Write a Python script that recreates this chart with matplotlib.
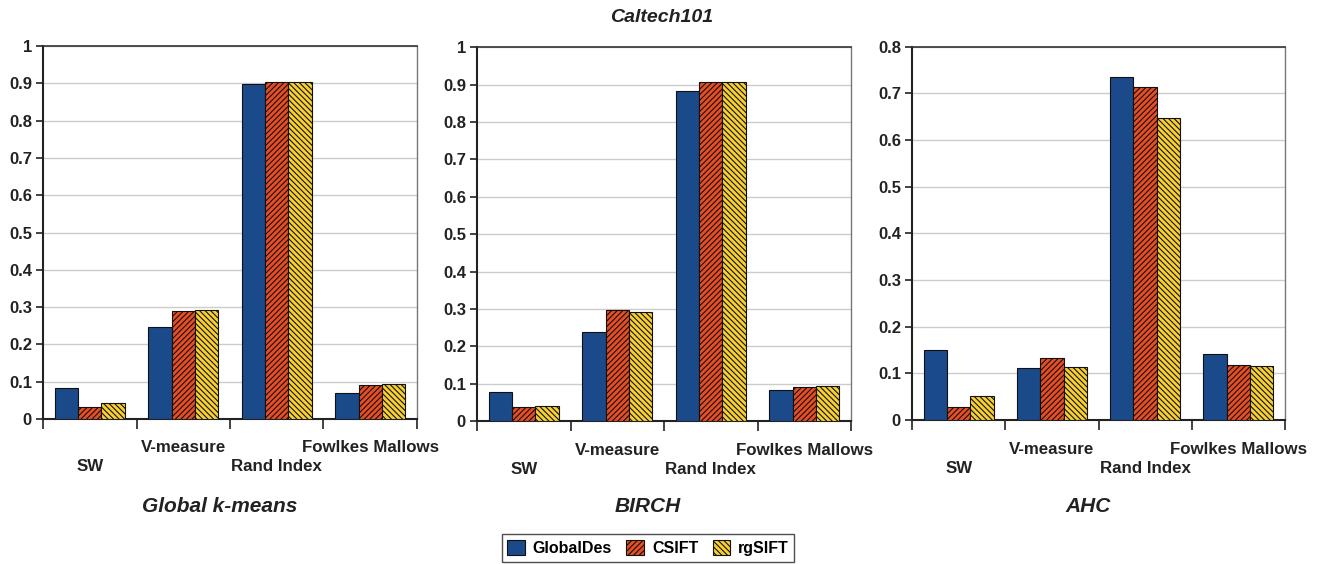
import matplotlib
matplotlib.use("Agg")
import matplotlib.pyplot as plt
import matplotlib.transforms as mtrans
from matplotlib.patches import Patch
import numpy as np

plt.rcParams['font.family'] = ['Liberation Sans', 'DejaVu Sans']
plt.rcParams['font.weight'] = 'bold'
plt.rcParams['hatch.linewidth'] = 0.8

categories = ["SW", "V-measure", "Rand Index", "Fowlkes Mallows"]
series_names = ["GlobalDes", "CSIFT", "rgSIFT"]
panel_titles = ["Global k-means", "BIRCH", "AHC"]
main_title = "Caltech101"

kmeans_globaldes = [0.084, 0.247, 0.898, 0.069]
kmeans_csift = [0.032, 0.290, 0.903, 0.090]
kmeans_rgsift = [0.042, 0.291, 0.904, 0.093]

birch_globaldes = [0.077, 0.237, 0.883, 0.084]
birch_csift = [0.038, 0.296, 0.908, 0.090]
birch_rgsift = [0.041, 0.293, 0.908, 0.094]

ahc_globaldes = [0.151, 0.111, 0.736, 0.141]
ahc_csift = [0.027, 0.132, 0.713, 0.117]
ahc_rgsift = [0.051, 0.113, 0.647, 0.116]

y_max = [1.0, 1.0, 0.8]

panels = [
    [kmeans_globaldes, kmeans_csift, kmeans_rgsift],
    [birch_globaldes, birch_csift, birch_rgsift],
    [ahc_globaldes, ahc_csift, ahc_rgsift],
]

colors = ["#1B4A8B", "#E84E23", "#F8D030"]
hatches = [None, "//////", "\\\\\\\\\\\\"]

fig = plt.figure(figsize=(13.2, 5.64), dpi=100)
positions = [
    [0.0326, 0.2571, 0.2833, 0.6613],
    [0.3614, 0.2535, 0.2833, 0.6626],
    [0.6909, 0.2553, 0.2826, 0.6619],
]
sub_x = [220, 648, 1088]

bw = 0.25
for p, (pos, data, ym) in enumerate(zip(positions, panels, y_max)):
    ax = fig.add_axes(pos)
    x = np.arange(len(categories)) + 0.5
    for s, vals in enumerate(data):
        ax.bar(x + (s - 1) * bw, vals, width=bw, color=colors[s],
               edgecolor="#111111", linewidth=0.8, hatch=hatches[s], zorder=3)
    ax.set_xlim(0, len(categories))
    ax.set_ylim(0, ym)
    ticks = np.round(np.arange(0, ym + 0.001, 0.1), 1)
    ax.set_yticks(ticks)
    ax.set_yticklabels([f"{v:g}" for v in ticks], fontsize=12, fontweight='bold',
                       color='#222222')
    ax.yaxis.grid(True, color="#CCCCCC", linewidth=1.0, zorder=0)
    ax.set_axisbelow(True)
    ax.set_xticks(np.arange(len(categories) + 1))
    ax.set_xticklabels([])
    ax.tick_params(axis='x', direction='out', length=7, width=1.2, color='#222222')
    ax.tick_params(axis='y', direction='out', length=5, width=1.2, color='#222222', pad=3)
    for side in ['left', 'bottom']:
        ax.spines[side].set_linewidth(1.5)
        ax.spines[side].set_color('#222222')
    ax.spines['top'].set_linewidth(1.2)
    ax.spines['top'].set_color('#333333')
    ax.spines['right'].set_linewidth(1.0)
    ax.spines['right'].set_color('#777777')
    trans = mtrans.blended_transform_factory(ax.transData, ax.transAxes)
    for i, cat in enumerate(categories):
        off = -29 if i % 2 == 1 else -48
        ax.annotate(cat, xy=(x[i], 0), xycoords=trans, xytext=(0, off),
                    textcoords='offset pixels', ha='center', va='center',
                    fontsize=12.2, fontweight='bold', color='#222222')
    fig.text(sub_x[p] / 1320, 1 - 507 / 564, panel_titles[p], ha='center', va='center',
             fontsize=15, fontweight='bold', fontstyle='italic', color='#222222')

fig.text(662 / 1320, 1 - 17 / 564, main_title, ha='center', va='center',
         fontsize=14, fontweight='bold', fontstyle='italic', color='#222222')

handles = [Patch(facecolor=colors[i], edgecolor='#111111', linewidth=0.8, hatch=hatches[i])
           for i in range(3)]
leg = fig.legend(handles, series_names, loc='center', bbox_to_anchor=(648 / 1320, 1 - 548 / 564),
                 ncol=3, frameon=True, fancybox=False, edgecolor='#222222',
                 prop={'weight': 'bold', 'size': 11.5}, handlelength=1.1, handleheight=1.1,
                 handletextpad=0.5, columnspacing=0.9, borderpad=0.35)
leg.get_frame().set_linewidth(1.0)

fig.savefig("out.png", dpi=100)
